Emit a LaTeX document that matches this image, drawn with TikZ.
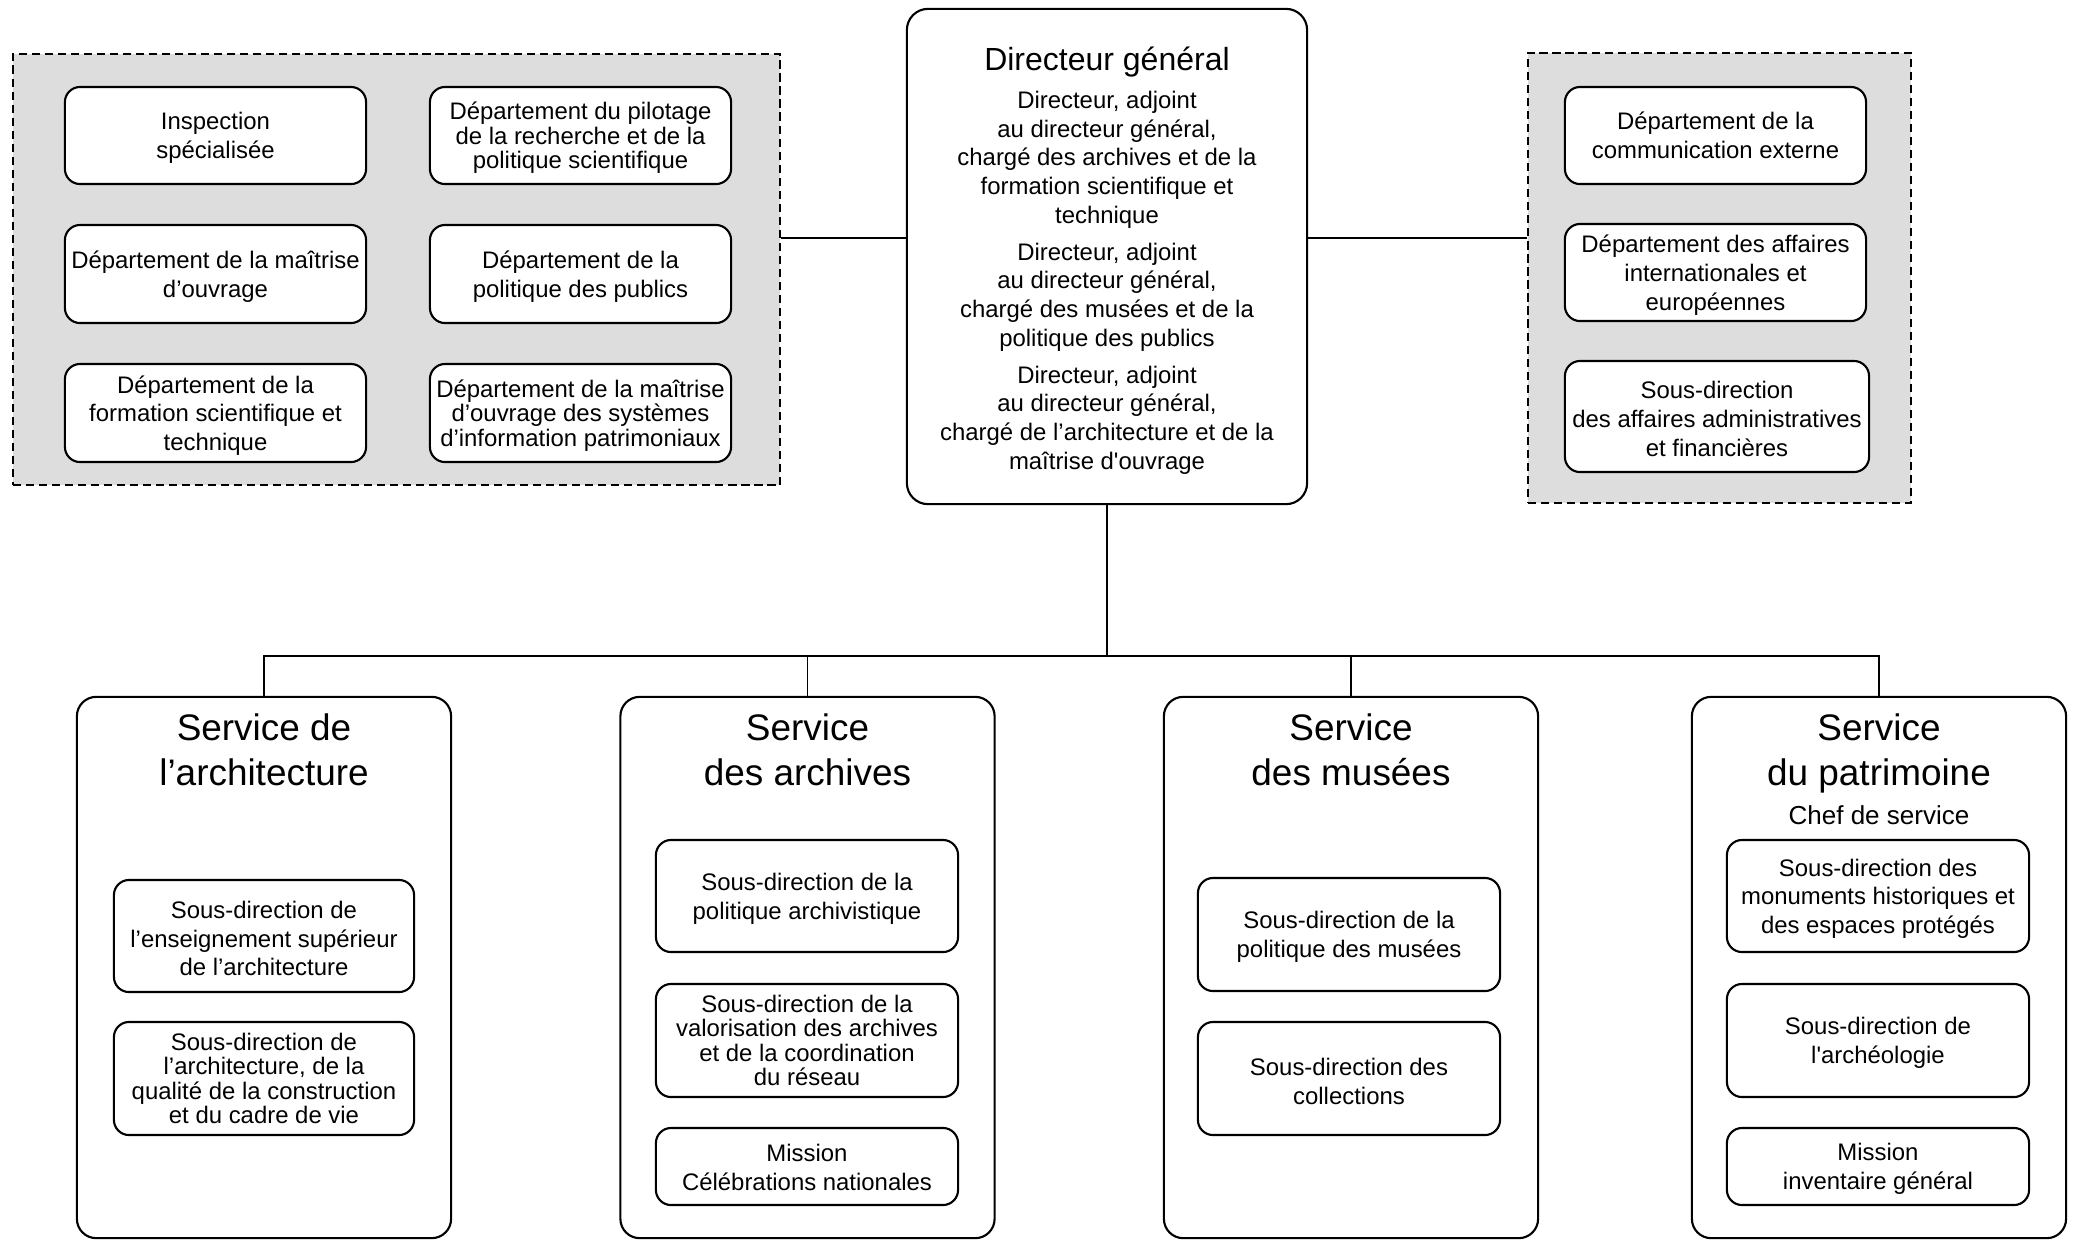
\documentclass[tikz,border=0pt]{standalone}
\usepackage{fontspec}
\setmainfont{Liberation Sans}[Ligatures={TeX,NoCommon}]
\newfontfamily\rawf{Liberation Sans}
\usetikzlibrary{positioning}

\newcommand{\smallf}{\fontsize{6.8}{8.17}\selectfont}
\newcommand{\tightf}{\fontsize{6.8}{6.92}\selectfont}
\newcommand{\servf}{\fontsize{10.5}{12.8}\selectfont}
\newcommand{\dgf}{\fontsize{9.1}{10}\selectfont}
\newcommand{\chieff}{\fontsize{7.4}{8.5}\selectfont}
\newcommand{\tstrut}{\rule{0pt}{6.4pt}}
\newcommand{\sq}{{\rawf'}}

\tikzset{
  ubox/.style={draw, line width=0.6pt, rounded corners=4.3pt, fill=white,
    align=center, inner sep=0pt, font=\smallf},
  tbox/.style={ubox, font=\tightf},
  grp/.style={draw, dashed, dash pattern=on 2.3pt off 1.4pt, line width=0.45pt,
    fill=black!13.5, inner sep=0pt},
  serv/.style={draw, line width=0.6pt, rounded corners=5.5pt, fill=white,
    inner sep=0pt, minimum width=3.74cm, minimum height=5.41cm},
  servtitle/.style={align=center, font=\servf, inner sep=0pt},
  link/.style={line width=0.5pt}
}

\begin{document}
\begin{tikzpicture}[x=0.01cm, y=-0.01cm]
\useasboundingbox (0,0) rectangle (2074,1241);

% groupes
\node[grp, minimum width=7.67cm, minimum height=4.31cm] (lgrp) at (396.5,269.5) {};
\node[grp, minimum width=3.83cm, minimum height=4.50cm] (rgrp) at (1719.5,278) {};

% direction generale
\node[ubox, rounded corners=6pt, minimum width=4cm, minimum height=4.95cm] (dg) at (1107,256.5)
  {{\dgf\rule{0pt}{9pt}Directeur général}\\[2.7pt]
   Directeur, adjoint\\ au directeur général,\\ chargé des archives et de la\\
   formation scientifique et\\ technique\\[2.3pt]
   Directeur, adjoint\\ au directeur général,\\ chargé des musées et de la\\
   politique des publics\\[2.3pt]
   Directeur, adjoint\\ au directeur général,\\ chargé de l’architecture et de la\\
   maîtrise d\sq ouvrage};

\node[ubox, minimum width=3.01cm, minimum height=0.97cm] (insp) at (215.5,135.5) {\tstrut Inspection\\ spécialisée};
\node[tbox, minimum width=3.01cm, minimum height=0.97cm] (pilot) at (580.5,135.5) {\tstrut Département du pilotage\\ de la recherche et de la\\ politique scientifique};
\node[ubox, minimum width=3.01cm, minimum height=0.98cm] (moa) at (215.5,274) {\tstrut Département de la maîtrise\\ d’ouvrage};
\node[ubox, minimum width=3.01cm, minimum height=0.98cm] (pub) at (580.5,274) {\tstrut Département de la\\ politique des publics};
\node[ubox, minimum width=3.01cm, minimum height=0.98cm] (form) at (215.5,413) {\tstrut Département de la\\ formation scientifique et\\ technique};
\node[tbox, minimum width=3.01cm, minimum height=0.98cm] (si) at (580.5,413) {\tstrut Département de la maîtrise\\ d’ouvrage des systèmes\\ d’information patrimoniaux};

\node[ubox, minimum width=3.01cm, minimum height=0.97cm] (com) at (1715.5,135.5) {Département de la\\ communication externe};
\node[ubox, minimum width=3.01cm, minimum height=0.97cm] (intl) at (1715.5,272.5) {\tstrut Département des affaires\\ internationales et\\ européennes};
\node[ubox, minimum width=3.04cm, minimum height=1.11cm] (saf) at (1717,416.5) {\tstrut Sous-direction\\ des affaires administratives\\ et financières};

% services
\node[serv] (sarch) at (264,967.5) {};
\node[serv] (sarc) at (807.5,967.5) {};
\node[serv] (smus) at (1351,967.5) {};
\node[serv] (spat) at (1879,967.5) {};

\node[servtitle] (tarch) at (264,749.5) {Service de\\ l’architecture};
\node[servtitle] (tarc) at (807.5,749.5) {Service\\ des archives};
\node[servtitle] (tmus) at (1351,749.5) {Service\\ des musées};
\node[servtitle] (tpat) at (1879,753.5) {Service\\ du patrimoine};
\node[font=\chieff, inner sep=0pt] (chief) at (1879,815) {Chef de service};

\node[ubox, minimum width=3cm, minimum height=1.12cm] (ens) at (264,936) {\tstrut Sous-direction de\\ l’enseignement supérieur\\ de l’architecture};
\node[tbox, minimum width=3cm, minimum height=1.13cm] (cadre) at (264,1078.5) {Sous-direction de\\ l’architecture, de la\\ qualité de la construction\\ et du cadre de vie};

\node[ubox, minimum width=3.02cm, minimum height=1.12cm] (polarc) at (807,896) {\tstrut Sous-direction de la\\ politique archivistique};
\node[tbox, minimum width=3.02cm, minimum height=1.13cm] (valo) at (807,1040.5) {Sous-direction de la\\ valorisation des archives\\ et de la coordination\\ du réseau};
\node[ubox, minimum width=3.02cm, minimum height=0.77cm] (celeb) at (807,1166.5) {\rule{0pt}{5.6pt}Mission\\ Célébrations nationales};

\node[ubox, minimum width=3.02cm, minimum height=1.13cm] (polmus) at (1349,934.5) {\tstrut Sous-direction de la\\ politique des musées};
\node[ubox, minimum width=3.02cm, minimum height=1.13cm] (coll) at (1349,1078.5) {\tstrut Sous-direction des\\ collections};

\node[ubox, minimum width=3.02cm, minimum height=1.12cm] (mh) at (1878,896) {\tstrut Sous-direction des\\ monuments historiques et\\ des espaces protégés};
\node[ubox, minimum width=3.02cm, minimum height=1.13cm] (archeo) at (1878,1040.5) {\tstrut Sous-direction de\\ l\sq archéologie};
\node[ubox, minimum width=3.02cm, minimum height=0.77cm] (inv) at (1878,1166.5) {\tstrut Mission\\ inventaire général};

% liaisons
\coordinate (lk) at (0,238);
\coordinate (bus) at (1107,656);
\draw[link] (lgrp.east |- lk) -- (dg.west |- lk);
\draw[link] (dg.east |- lk) -- (rgrp.west |- lk);
\draw[link] (dg.south) -- (bus);
\draw[link] (sarch.north) |- (bus) -| (spat.north);
\draw[link] (sarc.north) -- (sarc.north |- bus);
\draw[link] (smus.north) -- (smus.north |- bus);
\end{tikzpicture}
\end{document}
